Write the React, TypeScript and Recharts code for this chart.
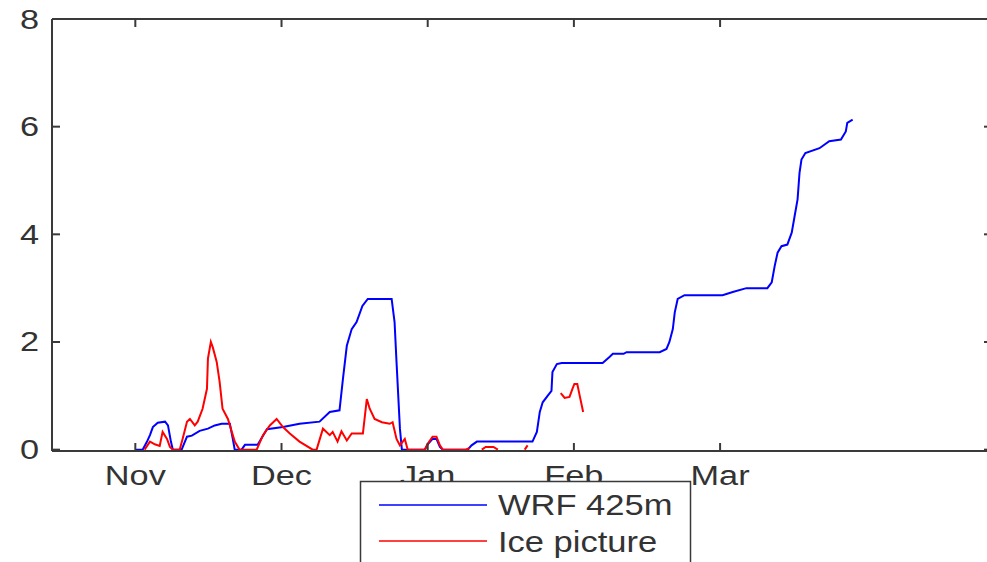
import { LineChart, Line, XAxis, YAxis } from 'recharts'

// x is a day index: Nov tick = 0, then one tick every 30 units (ticks are evenly spaced)
const MONTHS = ['Nov', 'Dec', 'Jan', 'Feb', 'Mar']
const MONTH_TICKS = [0, 30, 60, 90, 120]
const Y_TICKS = [0, 2, 4, 6, 8]

const WRF_DAYS = [
  0, 1.5, 2.4, 3.0, 3.6, 4.6, 6.1, 6.7, 7.3, 7.7, 9.5, 10.6, 11.6, 13.2, 14.9, 16.3, 17.7, 19.4,
  20.0, 20.4, 21.8, 22.5, 25.1, 26.2, 27.0, 30.3, 33.7, 37.8, 39.9, 41.9, 42.6, 43.4, 44.4, 45.4,
  46.6, 47.7, 52.6, 53.2, 53.6, 54.3, 54.7, 59.4, 60.0, 61.0, 61.8, 62.5, 63.1, 68.2, 69.0, 70.1,
  81.5, 82.4, 83.0, 83.6, 84.6, 85.4, 85.6, 86.5, 87.5, 95.9, 97.3, 98.0, 100.2, 100.8, 107.6,
  109.0, 109.6, 110.3, 110.7, 111.3, 112.7, 120.5, 122.6, 125.4, 129.7, 130.6, 131.2, 131.8,
  132.6, 133.8, 134.7, 135.3, 135.9, 136.3, 136.7, 137.5, 140.4, 142.4, 144.8, 145.8, 146.1, 147.2,
]
const WRF_VALUES = [
  0, 0, 0.15, 0.27, 0.42, 0.5, 0.52, 0.45, 0.15, 0, 0, 0.24, 0.26, 0.35, 0.39, 0.45, 0.48, 0.48,
  0.2, 0, 0, 0.09, 0.09, 0.26, 0.38, 0.42, 0.48, 0.52, 0.7, 0.73, 1.31, 1.93, 2.24, 2.37,
  2.67, 2.8, 2.8, 2.37, 1.63, 0.39, 0, 0, 0.1, 0.2, 0.2, 0.05, 0, 0, 0.08, 0.15,
  0.15, 0.33, 0.7, 0.88, 1.0, 1.09, 1.44, 1.59, 1.61, 1.61, 1.72, 1.78, 1.78, 1.81, 1.81,
  1.87, 2.0, 2.24, 2.55, 2.8, 2.87, 2.87, 2.93, 3.0, 3.0, 3.11, 3.41, 3.66,
  3.78, 3.81, 4.03, 4.34, 4.65, 5.14, 5.39, 5.51, 5.6, 5.73, 5.76, 5.91, 6.07, 6.13,
]

const ICE_DAYS = [
  1.9, 3.0, 4.0, 5.0, 5.6, 6.5, 7.1, 7.7, 9.1, 9.7, 10.6, 11.2, 12.2, 12.8, 13.8, 14.7, 14.9,
  15.5, 15.9, 16.7, 17.3, 17.9, 19.0, 19.8, 20.4, 21.4, 24.9, 26.2, 27.6, 29.0, 30.3, 31.7,
  33.7, 36.4, 37.2, 38.5, 39.9, 40.5, 41.5, 42.3, 43.4, 44.4, 46.7, 47.5, 48.1, 49.1, 50.6,
  52.2, 52.8, 53.6, 54.3, 55.3, 55.9, 59.4, 60.0, 61.0, 61.8, 62.5, 63.1, 67.8, 68.6, 69.0,
  71.1, 71.9, 73.5, 74.4, 75.0, 79.9, 80.5, 81.0, 87.3, 88.1, 89.1, 89.7, 90.1, 90.7, 91.1, 91.9,
]
const ICE_VALUES = [
  0, 0.15, 0.1, 0.07, 0.33, 0.2, 0.05, 0, 0, 0.2, 0.52, 0.57, 0.45, 0.52, 0.76, 1.13, 1.69,
  2.0, 1.9, 1.63, 1.26, 0.76, 0.57, 0.33, 0.15, 0, 0, 0.27, 0.45, 0.57, 0.42, 0.3,
  0.15, 0, 0, 0.39, 0.27, 0.33, 0.15, 0.34, 0.17, 0.3, 0.3, 0.94, 0.76, 0.57, 0.51,
  0.48, 0.51, 0.2, 0.08, 0.2, 0, 0, 0.11, 0.24, 0.24, 0.08, 0, 0, 0.03, null,
  0, 0.05, 0.05, 0, null, 0, 0.08, null, 1.05, 0.96, 0.98, 1.13, 1.22, 1.22, 1.04, 0.7,
]

const SERIES = [
  { name: 'WRF 425m', color: '#0000ff' },
  { name: 'Ice picture', color: '#ff0000' },
]

const wrfData = WRF_DAYS.map((day, i) => ({ day, value: WRF_VALUES[i] }))
const iceData = ICE_DAYS.map((day, i) => ({ day, value: ICE_VALUES[i] }))

const X_DOMAIN: [number, number] = [-17.1, 175.8]
// a hair below zero so the zero-level lines sit just above the axis, as in the original
const Y_DOMAIN: [number, number] = [-0.025, 8]

const AXIS_COLOR = '#3a3a3a'
const FONT = '"Liberation Sans", Arial, sans-serif'

function XTick({ x, y, payload }: any) {
  const i = MONTH_TICKS.indexOf(payload.value)
  return (
    <text
      transform={`translate(${x},${y + 34}) scale(1.27,1)`}
      textAnchor="middle"
      fontFamily={FONT}
      fontSize={27}
      fill="#333"
    >
      {MONTHS[i]}
    </text>
  )
}

function YTick({ x, y, payload }: any) {
  return (
    <text
      transform={`translate(${x - 13},${y + 9.5}) scale(1.27,1)`}
      textAnchor="end"
      fontFamily={FONT}
      fontSize={27}
      fill="#333"
    >
      {payload.value}
    </text>
  )
}

const blank = () => ''

export default function App() {
  return (
    <div
      style={{
        position: 'fixed', left: 0, top: 0, width: 987, height: 562,
        overflow: 'hidden', background: '#fff',
      }}
    >
      <LineChart width={1010} height={600} margin={{ top: 18, right: 17, left: 12, bottom: 109 }}>
        <XAxis
          xAxisId="bottom"
          dataKey="day"
          type="number"
          domain={X_DOMAIN}
          allowDataOverflow
          ticks={MONTH_TICKS}
          interval={0}
          height={40}
          tickSize={-8}
          tickMargin={8}
          tick={<XTick />}
          stroke={AXIS_COLOR}
          strokeWidth={2}
        />
        <XAxis
          xAxisId="top"
          orientation="top"
          dataKey="day"
          type="number"
          domain={X_DOMAIN}
          allowDataOverflow
          ticks={MONTH_TICKS}
          interval={0}
          height={1}
          tickSize={-8}
          tickFormatter={blank}
          stroke={AXIS_COLOR}
          strokeWidth={2}
        />
        <YAxis
          yAxisId="left"
          type="number"
          domain={Y_DOMAIN}
          allowDataOverflow
          ticks={Y_TICKS}
          interval={0}
          width={40}
          tickSize={-8}
          tickMargin={8}
          tick={<YTick />}
          stroke={AXIS_COLOR}
          strokeWidth={2}
        />
        <YAxis
          yAxisId="right"
          orientation="right"
          type="number"
          domain={Y_DOMAIN}
          allowDataOverflow
          ticks={Y_TICKS}
          interval={0}
          width={1}
          tickSize={-8}
          tickFormatter={blank}
          stroke={AXIS_COLOR}
          strokeWidth={2}
        />
        {/* invisible series so the top/right frame axes get drawn */}
        <Line
          data={wrfData}
          xAxisId="top"
          yAxisId="right"
          dataKey="value"
          stroke="none"
          dot={false}
          activeDot={false}
          legendType="none"
          isAnimationActive={false}
        />
        <Line
          data={wrfData}
          xAxisId="bottom"
          yAxisId="left"
          dataKey="value"
          name={SERIES[0].name}
          type="linear"
          stroke={SERIES[0].color}
          strokeWidth={2}
          dot={false}
          isAnimationActive={false}
        />
        <Line
          data={iceData}
          xAxisId="bottom"
          yAxisId="left"
          dataKey="value"
          name={SERIES[1].name}
          type="linear"
          stroke={SERIES[1].color}
          strokeWidth={2}
          dot={false}
          connectNulls={false}
          isAnimationActive={false}
        />
      </LineChart>
      <svg
        width={987}
        height={562}
        style={{ position: 'absolute', left: 0, top: 0, pointerEvents: 'none' }}
      >
        <rect x={360.5} y={481.5} width={330} height={120} fill="#fff" stroke={AXIS_COLOR} strokeWidth={1.5} />
        {SERIES.map((s, i) => (
          <g key={s.name}>
            <line x1={379} x2={487} y1={505 + i * 36} y2={505 + i * 36} stroke={s.color} strokeWidth={1.5} />
            <text
              transform={`translate(498,${515 + i * 37}) scale(1.19,1)`}
              fontFamily={FONT}
              fontSize={29}
              fill="#333"
            >
              {s.name}
            </text>
          </g>
        ))}
      </svg>
    </div>
  )
}
